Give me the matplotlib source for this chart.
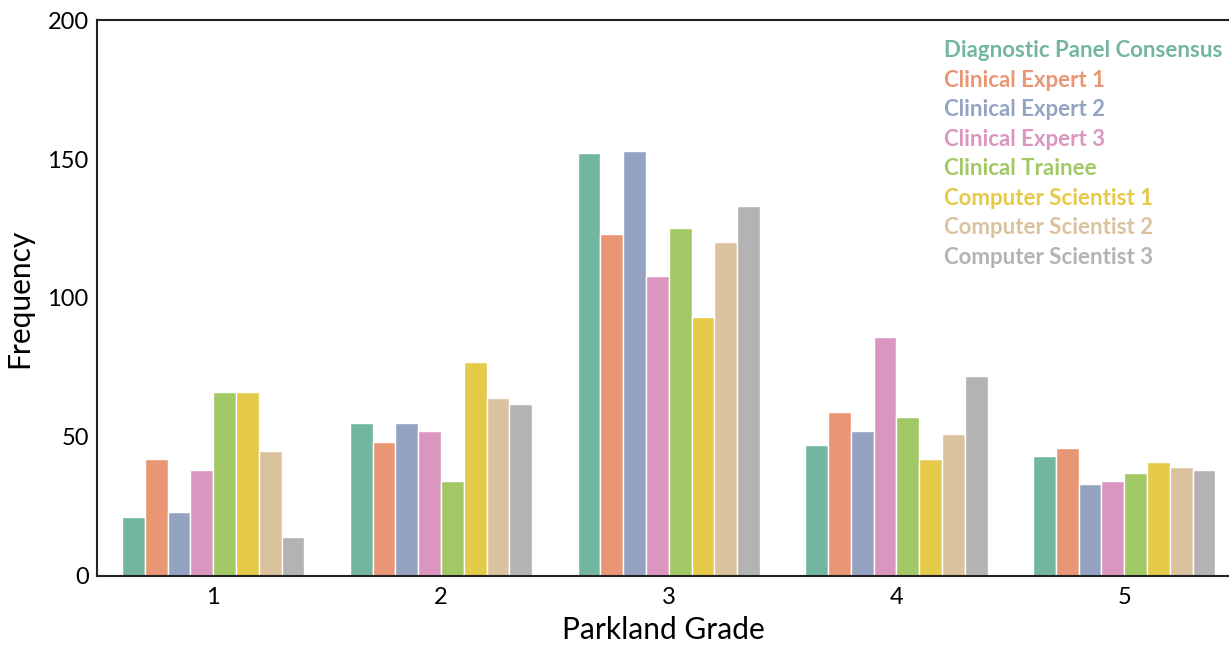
import matplotlib
matplotlib.use("Agg")
import matplotlib.pyplot as plt
import numpy as np
import seaborn as sns

grades = ["1", "2", "3", "4", "5"]
raters = ["Diagnostic Panel Consensus", "Clinical Expert 1", "Clinical Expert 2",
          "Clinical Expert 3", "Clinical Trainee", "Computer Scientist 1",
          "Computer Scientist 2", "Computer Scientist 3"]
consensus = [21, 55, 152, 47, 43]
expert1 = [42, 48, 123, 59, 46]
expert2 = [23, 55, 153, 52, 33]
expert3 = [38, 52, 108, 86, 34]
trainee = [66, 34, 125, 57, 37]
cs1 = [66, 77, 93, 42, 41]
cs2 = [45, 64, 120, 51, 39]
cs3 = [14, 62, 133, 72, 38]
series = [consensus, expert1, expert2, expert3, trainee, cs1, cs2, cs3]

colors = [sns.desaturate(c, 0.75) for c in sns.color_palette("Set2", 8)]

plt.rcParams['font.family'] = ['Lato', 'DejaVu Sans']

fig = plt.figure(figsize=(12.29, 6.47), dpi=100)
ax = fig.add_axes([0.079, 0.11, 0.921, 0.859])

n = len(series)
width = 0.8 / n
x = np.arange(len(grades))
for i, (vals, name) in enumerate(zip(series, raters)):
    ax.bar(x - 0.4 + width * (i + 0.5), vals, width, color=colors[i],
           edgecolor="white", linewidth=1.0, label=name)

ax.set_xlim(-0.51, 4.46)
ax.set_ylim(0, 200)
ax.set_yticks([0, 50, 100, 150, 200])
ax.set_xticks(x)
ax.set_xticklabels(grades)
ax.tick_params(axis='both', labelsize=17, length=0, pad=6)
ax.tick_params(axis='x', pad=8)
for s in ["top", "left", "bottom"]:
    ax.spines[s].set_linewidth(1.5)
    ax.spines[s].set_color("#222222")
ax.spines["right"].set_visible(False)
ax.set_ylabel("Frequency", fontsize=21.5, labelpad=10)
ax.set_xlabel("Parkland Grade", fontsize=21.5, labelpad=6)

leg = ax.legend(loc="upper right", bbox_to_anchor=(1.012, 1.0), frameon=False,
                handlelength=0, handletextpad=0, labelspacing=0.385,
                prop={'family': ['Lato', 'DejaVu Sans'], 'weight': 'bold', 'size': 16})
for h in leg.legend_handles:
    h.set_visible(False)
for t, c in zip(leg.get_texts(), colors):
    t.set_color(c)

fig.savefig("out.png", dpi=100)
